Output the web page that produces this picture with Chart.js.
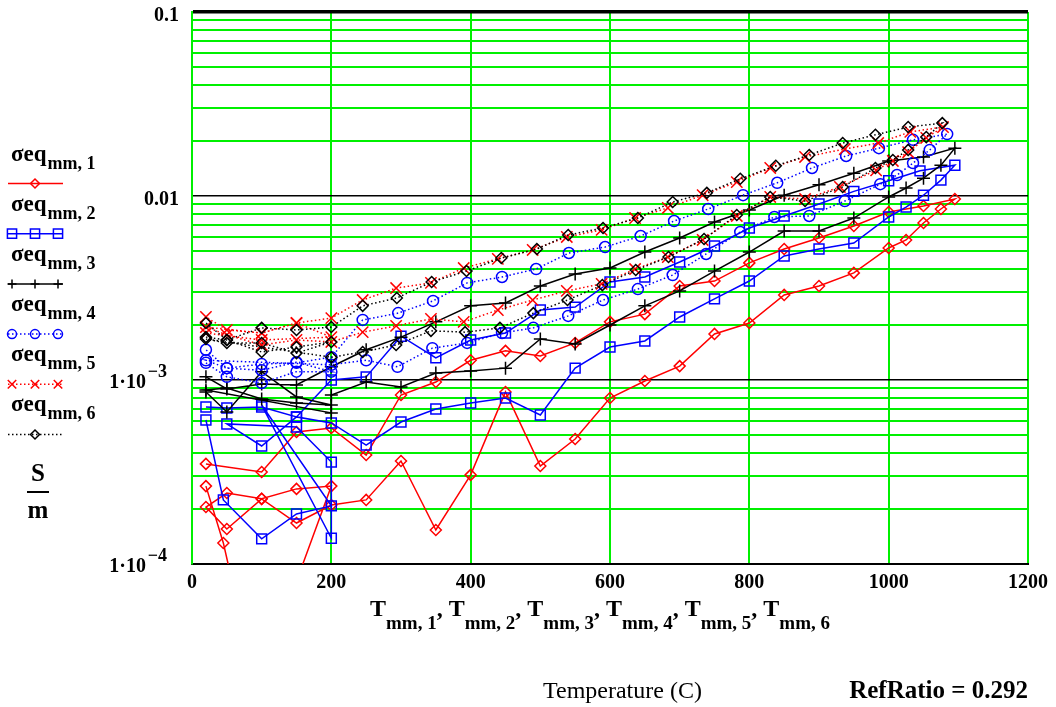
<!DOCTYPE html>
<html>
<head>
<meta charset="utf-8">
<script src="https://cdn.jsdelivr.net/npm/chart.js@4.4.0/dist/chart.umd.min.js"></script>
<style>
body { margin: 0; background: #fff; }
#wrap { width: 1056px; height: 707px; position: relative; }
</style>
</head>
<body>
<div id="wrap"><canvas id="chart" width="1056" height="707"></canvas></div>
<script>
// temperature (C) and conductivity (S/m), one pair of lists per run
const tmm1 = [20,45,70,130,200,150,100,50,20,50,100,150,200,250,300,350,400,450,500,550,600,650,700,750,800,850,900,950,1000,1025,1050,1075,1095,1050,1000,950,900,850,800,750,700,650,600,550,500,450,400,350,300,250,200,150,100,20];
const seq1 = [2.65e-4,1.30e-4,5.0e-5,5.0e-5,2.65e-4,2.56e-4,2.26e-4,2.43e-4,2.04e-4,1.55e-4,2.26e-4,1.67e-4,2.09e-4,2.23e-4,3.63e-4,1.53e-4,3.05e-4,8.61e-4,3.41e-4,4.78e-4,7.98e-4,9.88e-4,1.19e-3,1.78e-3,2.04e-3,2.90e-3,3.24e-3,3.82e-3,5.22e-3,5.77e-3,7.13e-3,8.50e-3,9.63e-3,8.82e-3,8.19e-3,6.87e-3,5.91e-3,5.15e-3,4.33e-3,3.45e-3,3.24e-3,2.28e-3,2.07e-3,1.59e-3,1.35e-3,1.44e-3,1.28e-3,9.75e-4,8.29e-4,3.91e-4,5.49e-4,5.22e-4,3.16e-4,3.50e-4];

const tmm2 = [20,45,100,150,200,100,200,200,150,50,100,150,200,250,300,350,400,450,500,550,600,650,700,750,800,850,900,950,1000,1025,1050,1075,1095,1045,1000,950,900,850,800,750,700,650,600,550,500,450,400,350,300,250,200,150,100,50,20];
const seq2 = [6.06e-4,2.23e-4,1.37e-4,1.87e-4,2.07e-4,7.31e-4,1.38e-4,3.58e-4,5.55e-4,5.77e-4,4.38e-4,6.30e-4,5.84e-4,4.43e-4,5.91e-4,6.96e-4,7.50e-4,7.98e-4,6.45e-4,1.16e-3,1.51e-3,1.63e-3,2.20e-3,2.76e-3,3.45e-3,4.72e-3,5.15e-3,5.55e-3,7.69e-3,8.71e-3,1.01e-2,1.22e-2,1.47e-2,1.37e-2,1.21e-2,1.06e-2,9.05e-3,7.79e-3,6.70e-3,5.35e-3,4.38e-3,3.63e-3,3.41e-3,2.49e-3,2.40e-3,1.80e-3,1.65e-3,1.32e-3,1.73e-3,1.04e-3,1.00e-3,6.30e-4,7.13e-4,7.05e-4,7.13e-4];

const tmm3 = [20,50,100,150,200,150,100,50,20,200,200,250,300,350,400,450,500,550,600,650,700,750,800,850,900,950,1000,1025,1050,1075,1095,1050,1000,950,900,850,800,750,700,650,600,550,500,450,400,350,300,250,200,150,100,50,20];
const seq3 = [8.61e-4,6.70e-4,1.11e-3,8.09e-4,7.31e-4,7.50e-4,7.89e-4,9.05e-4,8.82e-4,6.62e-4,8.29e-4,9.75e-4,9.16e-4,1.09e-3,1.12e-3,1.16e-3,1.67e-3,1.57e-3,1.99e-3,2.53e-3,3.05e-3,3.91e-3,4.96e-3,6.45e-3,6.45e-3,7.59e-3,9.88e-3,1.105e-2,1.25e-2,1.47e-2,1.82e-2,1.63e-2,1.55e-2,1.33e-2,1.15e-2,1.01e-2,8.39e-3,7.22e-3,5.91e-3,4.96e-3,4.06e-3,3.77e-3,3.24e-3,2.62e-3,2.53e-3,2.07e-3,1.71e-3,1.46e-3,1.18e-3,9.39e-4,9.51e-4,8.94e-4,1.04e-3];

const tmm4 = [20,50,100,150,200,150,100,50,20,200,250,295,345,395,445,490,540,590,640,690,738,787,836,886,937,988,1012,1035,1059,1084,1035,986,939,890,840,791,741,692,644,593,541,494,445,395,346,296,245,200,150,100,50,20];
const seq4 = [1.24e-3,1.04e-3,9.63e-4,1.11e-3,1.11e-3,1.25e-3,1.13e-3,1.16e-3,1.28e-3,1.21e-3,1.28e-3,1.18e-3,1.49e-3,1.59e-3,1.80e-3,1.92e-3,2.23e-3,2.72e-3,3.12e-3,3.72e-3,4.84e-3,6.37e-3,7.69e-3,7.79e-3,9.39e-3,1.16e-2,1.30e-2,1.51e-2,1.78e-2,2.17e-2,2.02e-2,1.82e-2,1.65e-2,1.42e-2,1.18e-2,1.01e-2,8.50e-3,7.31e-3,6.06e-3,5.28e-3,4.90e-3,4.01e-3,3.63e-3,3.37e-3,2.69e-3,2.31e-3,2.12e-3,1.33e-3,1.24e-3,1.22e-3,1.16e-3,1.46e-3];

const tmm5 = [20,100,200,150,100,20,50,100,150,200,245,293,343,390,439,489,538,588,636,683,733,782,830,880,930,982,1006,1028,1054,1078,1031,985,937,880,830,782,733,683,636,588,538,489,439,390,343,293,245,200,150,100,50,20];
const seq5 = [1.80e-3,1.65e-3,1.71e-3,2.04e-3,1.80e-3,1.94e-3,1.76e-3,1.55e-3,1.65e-3,1.61e-3,1.82e-3,1.97e-3,2.15e-3,2.07e-3,2.40e-3,2.72e-3,3.05e-3,3.33e-3,4.01e-3,4.66e-3,5.77e-3,7.79e-3,9.88e-3,9.63e-3,1.12e-2,1.38e-2,1.55e-2,1.73e-2,2.07e-2,2.37e-2,2.23e-2,1.94e-2,1.80e-2,1.63e-2,1.42e-2,1.19e-2,1.01e-2,8.61e-3,7.59e-3,6.54e-3,5.99e-3,5.09e-3,4.55e-3,4.06e-3,3.37e-3,3.16e-3,2.72e-3,2.17e-3,2.04e-3,1.80e-3,1.87e-3,2.20e-3];

const tmm6 = [20,50,100,150,200,150,100,50,20,200,245,293,343,392,442,490,539,589,637,684,735,782,830,880,934,981,1006,1028,1054,1077,1028,981,934,886,838,787,739,690,640,590,540,495,444,394,344,294,245,200,150,100,50,20];
const seq6 = [1.71e-3,1.65e-3,1.42e-3,1.51e-3,1.61e-3,1.40e-3,1.59e-3,1.59e-3,1.67e-3,1.33e-3,1.42e-3,1.55e-3,1.85e-3,1.82e-3,1.92e-3,2.31e-3,2.72e-3,3.28e-3,3.96e-3,4.66e-3,5.84e-3,7.89e-3,9.88e-3,9.39e-3,1.12e-2,1.42e-2,1.57e-2,1.78e-2,2.09e-2,2.49e-2,2.37e-2,2.15e-2,1.94e-2,1.67e-2,1.46e-2,1.24e-2,1.04e-2,9.28e-3,7.59e-3,6.70e-3,6.14e-3,5.15e-3,4.60e-3,3.91e-3,3.41e-3,2.79e-3,2.53e-3,1.94e-3,1.87e-3,1.92e-3,1.65e-3,2.04e-3];

const xTicks = [0, 200, 400, 600, 800, 1000, 1200];
const yGrid = [1e-4,2e-4,3e-4,4e-4,5e-4,6e-4,7e-4,8e-4,9e-4,1e-3,2e-3,3e-3,4e-3,5e-3,6e-3,7e-3,8e-3,9e-3,0.01,0.02,0.03,0.04,0.05,0.06,0.07,0.08,0.09,0.1];
const yLabelVals = [0.1, 0.01, 1e-3, 1e-4];
const yLabelMain = ["0.1", "0.01", "1·10", "1·10"];
const yLabelSup = ["", "", "−3", "−4"];
const seriesNums = ["1", "2", "3", "4", "5", "6"];

const GREEN = "#00f000";
const SERIF = "'Liberation Serif', 'Times New Roman', serif";

const styles = [
    { color: "#ff0000", marker: "diamond", dash: [], r: 5.5 },
    { color: "#0000ff", marker: "square", dash: [], r: 7 },
    { color: "#000000", marker: "plus", dash: [], r: 6.5 },
    { color: "#0000ff", marker: "circle", dash: [1.5, 2.5], r: 5.5 },
    { color: "#ff0000", marker: "x", dash: [1.5, 2.5], r: 8 },
    { color: "#000000", marker: "diamond", dash: [1.5, 2.5], r: 5.5 }
];
const chartStyle = { diamond: "rectRot", square: "rect", plus: "cross", circle: "circle", x: "crossRot" };

function pairs(t, s) {
    return t.map((v, i) => ({ x: v, y: s[i] }));
}

function isDecade(v) {
    const l = Math.log10(v);
    return Math.abs(l - Math.round(l)) < 1e-6;
}

// marker for the legend samples
function drawMarker(ctx, kind, x, y, r) {
    ctx.beginPath();
    if (kind == "diamond") {
        ctx.moveTo(x, y - r); ctx.lineTo(x + r, y); ctx.lineTo(x, y + r); ctx.lineTo(x - r, y); ctx.closePath();
    } else if (kind == "square") {
        const h = r * Math.SQRT1_2;
        ctx.rect(x - h, y - h, 2 * h, 2 * h);
    } else if (kind == "plus") {
        ctx.moveTo(x - r, y); ctx.lineTo(x + r, y); ctx.moveTo(x, y - r); ctx.lineTo(x, y + r);
    } else if (kind == "circle") {
        ctx.arc(x, y, r, 0, Math.PI * 2);
    } else if (kind == "x") {
        const h = r * Math.SQRT1_2;
        ctx.moveTo(x - h, y - h); ctx.lineTo(x + h, y + h); ctx.moveTo(x + h, y - h); ctx.lineTo(x - h, y + h);
    }
    ctx.stroke();
}

const texts = {
    id: "texts",
    afterDraw(chart) {
        const ctx = chart.ctx;
        const ys = chart.scales.y;
        ctx.save();
        ctx.fillStyle = "#000";
        ctx.textBaseline = "alphabetic";

        // y tick labels
        yLabelVals.forEach((v, i) => {
            const py = ys.getPixelForValue(v);
            ctx.textAlign = "right";
            if (yLabelSup[i]) {
                ctx.font = "bold 20px " + SERIF;
                ctx.fillText(yLabelMain[i], 146, py + 8);
                ctx.font = "bold 18px " + SERIF;
                ctx.fillText(yLabelSup[i], 167, py - 3);
            } else {
                ctx.font = "bold 20px " + SERIF;
                ctx.fillText(yLabelMain[i], 179, i == 0 ? 21 : py + 9);
            }
        });

        // legend
        ctx.textAlign = "left";
        styles.forEach((st, i) => {
            const ly = 161 + 50 * i;
            ctx.fillStyle = "#000";
            ctx.font = "bold 23px " + SERIF;
            ctx.fillText("σeq", 11, ly);
            const w = ctx.measureText("σeq").width;
            ctx.font = "bold 18px " + SERIF;
            ctx.fillText("mm, " + seriesNums[i], 11 + w + 1, ly + 8);

            const sy = 183.5 + 50.2 * i;
            ctx.strokeStyle = st.color;
            ctx.lineWidth = 1.5;
            ctx.setLineDash(st.dash);
            ctx.beginPath();
            ctx.moveTo(8, sy);
            ctx.lineTo(63, sy);
            ctx.stroke();
            ctx.setLineDash([]);
            const xs = (st.marker == "diamond") ? [35] : [12, 35, 58];
            xs.forEach(mx => drawMarker(ctx, st.marker, mx, sy, st.marker == "x" ? 6 : st.marker == "square" ? 6.5 : 4.5));
        });

        // units
        ctx.fillStyle = "#000";
        ctx.font = "bold 25px " + SERIF;
        ctx.textAlign = "center";
        ctx.fillText("S", 38, 481);
        ctx.fillRect(27, 491, 22, 2);
        ctx.fillText("m", 38, 518);

        // x axis title
        const parts = [];
        seriesNums.forEach((n, i) => {
            parts.push({ s: "T", f: "bold 24px " + SERIF, dy: 0 });
            parts.push({ s: "mm, " + n, f: "bold 19px " + SERIF, dy: 13 });
            if (i < seriesNums.length - 1) parts.push({ s: ", ", f: "bold 24px " + SERIF, dy: 0 });
        });
        let total = 0;
        parts.forEach(p => { ctx.font = p.f; p.w = ctx.measureText(p.s).width; total += p.w; });
        let x = 600 - total / 2;
        ctx.textAlign = "left";
        parts.forEach(p => {
            ctx.font = p.f;
            ctx.fillText(p.s, x, 616 + p.dy);
            x += p.w;
        });

        // footnotes
        ctx.font = "24px " + SERIF;
        ctx.fillText("Temperature (C)", 543, 698);
        ctx.font = "bold 25px " + SERIF;
        ctx.textAlign = "right";
        ctx.fillText("RefRatio = 0.292", 1028, 698);
        ctx.restore();
    }
};

const seriesData = [[tmm1, seq1], [tmm2, seq2], [tmm3, seq3], [tmm4, seq4], [tmm5, seq5], [tmm6, seq6]];
const datasets = seriesData.map((d, i) => ({
    label: "σeq mm, " + seriesNums[i],
    data: pairs(d[0], d[1]),
    showLine: true,
    borderColor: styles[i].color,
    borderWidth: 1.5,
    borderDash: styles[i].dash,
    pointStyle: chartStyle[styles[i].marker],
    pointRadius: styles[i].r,
    pointBorderWidth: 1.5,
    pointBorderColor: styles[i].color,
    pointBackgroundColor: "rgba(0,0,0,0)",
    tension: 0,
    order: 6 - i
}));

new Chart(document.getElementById("chart"), {
    type: "scatter",
    data: { datasets: datasets },
    options: {
        responsive: false,
        animation: false,
        layout: { padding: { top: 12, right: 28, left: 0, bottom: 0 } },
        plugins: { legend: { display: false }, tooltip: { enabled: false } },
        scales: {
            x: {
                type: "linear",
                min: 0,
                max: 1200,
                afterBuildTicks: s => { s.ticks = xTicks.map(v => ({ value: v })); },
                afterFit: s => { s.height = 143; },
                ticks: {
                    color: "#000",
                    padding: 7,
                    maxRotation: 0,
                    font: { family: SERIF, weight: "bold", size: 20 },
                    callback: v => String(v)
                },
                grid: { color: GREEN, lineWidth: 2, drawTicks: false },
                border: { color: "#000", width: 2 }
            },
            y: {
                type: "logarithmic",
                min: 1e-4,
                max: 0.1,
                afterBuildTicks: s => { s.ticks = yGrid.map(v => ({ value: v })); },
                afterFit: s => { s.width = 192; },
                ticks: { display: false },
                grid: {
                    drawTicks: false,
                    color: c => (c.tick && isDecade(c.tick.value)) ? "#000" : GREEN,
                    lineWidth: c => (c.tick && c.tick.value == 0.1) ? 3.5 : (c.tick && isDecade(c.tick.value)) ? 1.5 : 2
                },
                border: { color: GREEN, width: 2 }
            }
        }
    },
    plugins: [texts]
});
</script>
</body>
</html>
